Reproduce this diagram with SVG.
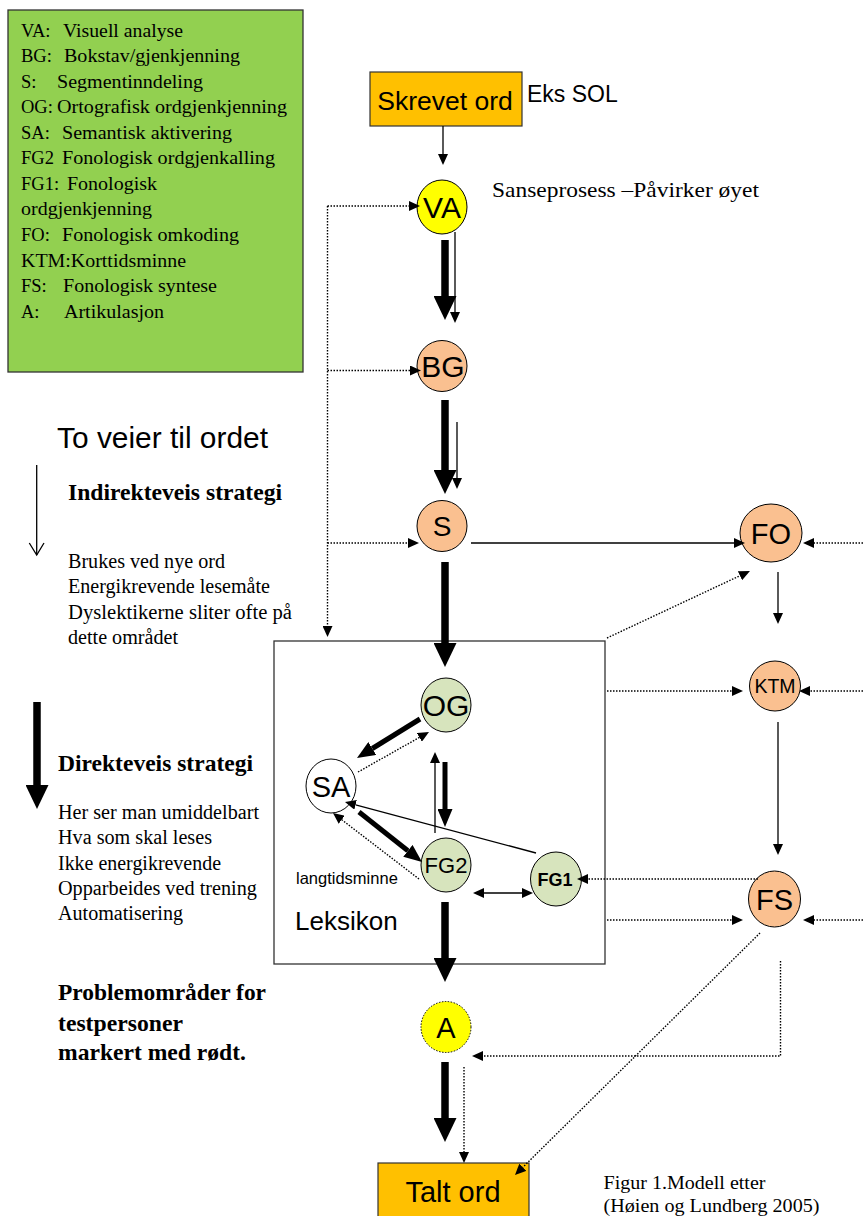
<svg xmlns="http://www.w3.org/2000/svg" width="863" height="1216" viewBox="0 0 863 1216">
<style>
.lg{font-family:"Liberation Serif","Times New Roman",serif;font-size:18.5px;fill:#000}
.tr{font-family:"Liberation Serif","Times New Roman",serif;fill:#000}
.ar{font-family:"Liberation Sans",Arial,sans-serif;fill:#000}
.nd{stroke:#000;stroke-width:1}
.pe{fill:#FAC090}
.gr{fill:#D7E4BD}
.ye{fill:#FFFF00}
.nt{font-family:"Liberation Sans",Arial,sans-serif;text-anchor:middle;fill:#000}
.thick{stroke:#000;stroke-width:7.5;fill:none}
.med{stroke:#000;stroke-width:5;fill:none}
.thin{stroke:#000;stroke-width:1.3;fill:none}
.dot{stroke:#000;stroke-width:1.4;stroke-dasharray:1.5 1.5;fill:none}
</style>
<defs>
<marker id="mT" markerUnits="userSpaceOnUse" markerWidth="24" markerHeight="23" refX="0" refY="11.5" orient="auto"><path d="M0,0 L24,11.5 L0,23 Z" fill="#000"/></marker>
<marker id="mM" markerUnits="userSpaceOnUse" markerWidth="18" markerHeight="15" refX="0" refY="7.5" orient="auto"><path d="M0,0 L18,7.5 L0,15 Z" fill="#000"/></marker>
<marker id="mS" markerUnits="userSpaceOnUse" markerWidth="11" markerHeight="10" refX="0" refY="5" orient="auto-start-reverse"><path d="M0,0 L11,5 L0,10 Z" fill="#000"/></marker>
</defs>

<g id="legend">
<rect x="8" y="10" width="295" height="362" fill="#92D050" stroke="#333" stroke-width="1.3"/>
<text class="lg" x="21" y="36.5">VA:</text><text class="lg" x="63" y="36.5" textLength="120" lengthAdjust="spacingAndGlyphs">Visuell analyse</text>
<text class="lg" x="21" y="62">BG:</text><text class="lg" x="64" y="62" textLength="176" lengthAdjust="spacingAndGlyphs">Bokstav/gjenkjenning</text>
<text class="lg" x="21" y="87.5">S:</text><text class="lg" x="57" y="87.5" textLength="146" lengthAdjust="spacingAndGlyphs">Segmentinndeling</text>
<text class="lg" x="21" y="113">OG:</text><text class="lg" x="57" y="113" textLength="230" lengthAdjust="spacingAndGlyphs">Ortografisk ordgjenkjenning</text>
<text class="lg" x="21" y="138.5">SA:</text><text class="lg" x="62" y="138.5" textLength="170" lengthAdjust="spacingAndGlyphs">Semantisk aktivering</text>
<text class="lg" x="21" y="164">FG2</text><text class="lg" x="62" y="164" textLength="213" lengthAdjust="spacingAndGlyphs">Fonologisk ordgjenkalling</text>
<text class="lg" x="21" y="190">FG1:</text><text class="lg" x="67" y="190" textLength="90" lengthAdjust="spacingAndGlyphs">Fonologisk</text>
<text class="lg" x="21" y="215" textLength="131" lengthAdjust="spacingAndGlyphs">ordgjenkjenning</text>
<text class="lg" x="21" y="241">FO:</text><text class="lg" x="62" y="241" textLength="177" lengthAdjust="spacingAndGlyphs">Fonologisk omkoding</text>
<text class="lg" x="21" y="266.5" textLength="165" lengthAdjust="spacingAndGlyphs">KTM:Korttidsminne</text>
<text class="lg" x="21" y="292">FS:</text><text class="lg" x="63" y="292" textLength="154" lengthAdjust="spacingAndGlyphs">Fonologisk syntese</text>
<text class="lg" x="21" y="318">A:</text><text class="lg" x="64" y="318" textLength="100" lengthAdjust="spacingAndGlyphs">Artikulasjon</text>
</g>

<g id="side-text">
<text class="ar" x="57" y="447.5" font-size="29" textLength="211" lengthAdjust="spacingAndGlyphs">To veier til ordet</text>
<line x1="36.7" y1="465" x2="36.7" y2="555" class="thin" stroke-width="1.2"/>
<polyline points="29.3,543 36.7,555 44,543" class="thin" stroke-width="1.2"/>
<text class="tr" x="68" y="500" font-size="22.5" font-weight="bold" textLength="214" lengthAdjust="spacingAndGlyphs">Indirekteveis strategi</text>
<text class="tr" x="68" y="567.5" font-size="20" textLength="157" lengthAdjust="spacingAndGlyphs">Brukes ved nye ord</text>
<text class="tr" x="68" y="593" font-size="20" textLength="202" lengthAdjust="spacingAndGlyphs">Energikrevende lesemåte</text>
<text class="tr" x="68" y="618.5" font-size="20" textLength="224" lengthAdjust="spacingAndGlyphs">Dyslektikerne sliter ofte  på</text>
<text class="tr" x="68" y="644" font-size="20" textLength="110" lengthAdjust="spacingAndGlyphs">dette området</text>
<line x1="37" y1="702" x2="37" y2="785" class="thick" marker-end="url(#mT)"/>
<text class="tr" x="58" y="771" font-size="22.5" font-weight="bold" textLength="195" lengthAdjust="spacingAndGlyphs">Direkteveis strategi</text>
<text class="tr" x="58" y="818.5" font-size="20" textLength="201" lengthAdjust="spacingAndGlyphs">Her ser man umiddelbart</text>
<text class="tr" x="58" y="844" font-size="20" textLength="154" lengthAdjust="spacingAndGlyphs">Hva som skal leses</text>
<text class="tr" x="58" y="869.5" font-size="20" textLength="163" lengthAdjust="spacingAndGlyphs">Ikke energikrevende</text>
<text class="tr" x="58" y="895" font-size="20" textLength="199" lengthAdjust="spacingAndGlyphs">Opparbeides ved trening</text>
<text class="tr" x="58" y="920" font-size="20" textLength="125" lengthAdjust="spacingAndGlyphs">Automatisering</text>
<text class="tr" x="58" y="1000" font-size="22.5" font-weight="bold" textLength="208" lengthAdjust="spacingAndGlyphs">Problemområder for</text>
<text class="tr" x="58" y="1030.5" font-size="22.5" font-weight="bold" textLength="125" lengthAdjust="spacingAndGlyphs">testpersoner</text>
<text class="tr" x="58" y="1060" font-size="22.5" font-weight="bold" textLength="188" lengthAdjust="spacingAndGlyphs">markert med rødt.</text>
<text class="ar" x="527" y="102" font-size="23">Eks SOL</text>
<text class="tr" x="492" y="197" font-size="22" textLength="267" lengthAdjust="spacingAndGlyphs">Sanseprosess –Påvirker øyet</text>
<text class="tr" x="603.5" y="1189" font-size="19.5" textLength="162" lengthAdjust="spacingAndGlyphs">Figur 1.Modell etter</text>
<text class="tr" x="603.5" y="1212" font-size="19.5" textLength="216" lengthAdjust="spacingAndGlyphs">(Høien og Lundberg 2005)</text>
</g>

<g id="leksikon">
<rect x="274" y="641" width="331" height="323" fill="none" stroke="#333" stroke-width="1.3"/>
<text class="ar" x="296" y="884" font-size="16.5">langtidsminne</text>
<text class="ar" x="295" y="930" font-size="26">Leksikon</text>
</g>

<g id="skrevet-ord">
<rect x="370" y="72" width="152" height="54" fill="#FFC000" stroke="#333" stroke-width="1.2"/>
<text class="nt" x="445" y="110" font-size="26.5">Skrevet ord</text>
</g>
<g id="talt-ord">
<rect x="378" y="1163" width="151" height="70" fill="#FFC000" stroke="#333" stroke-width="1.2"/>
<text class="nt" x="453" y="1202" font-size="29">Talt ord</text>
</g>
<g id="VA"><ellipse cx="442" cy="207" rx="25" ry="27" class="nd ye"/><text class="nt" x="442" y="218" font-size="30">VA</text></g>
<g id="BG"><ellipse cx="442" cy="366" rx="25" ry="25.5" class="nd pe"/><text class="nt" x="443" y="377" font-size="30">BG</text></g>
<g id="S"><ellipse cx="442" cy="526" rx="25" ry="25.5" class="nd pe"/><text class="nt" x="442" y="536" font-size="28">S</text></g>
<g id="FO"><ellipse cx="771" cy="533" rx="31" ry="29" class="nd pe"/><text class="nt" x="771" y="544" font-size="29">FO</text></g>
<g id="KTM"><ellipse cx="775" cy="686" rx="25.5" ry="25" class="nd pe"/><text class="nt" x="775" y="693" font-size="19.5">KTM</text></g>
<g id="FS"><ellipse cx="774.5" cy="899" rx="26" ry="28" class="nd pe"/><text class="nt" x="774.5" y="910" font-size="29">FS</text></g>
<g id="OG"><ellipse cx="446" cy="705" rx="25" ry="27" class="nd gr"/><text class="nt" x="446" y="716" font-size="30">OG</text></g>
<g id="SA"><ellipse cx="331" cy="786" rx="25" ry="27" class="nd" fill="#fff"/><text class="nt" x="331" y="796.5" font-size="29">SA</text></g>
<g id="FG2"><ellipse cx="446" cy="865" rx="25" ry="27" class="nd gr"/><text class="nt" x="446" y="873" font-size="22">FG2</text></g>
<g id="FG1"><ellipse cx="556" cy="879" rx="25.5" ry="27" class="nd gr"/><text class="nt" x="555" y="886" font-size="18" font-weight="bold">FG1</text></g>
<g id="A"><ellipse cx="446" cy="1027" rx="25" ry="25.5" fill="#FFFF00" stroke="#000" stroke-width="1" stroke-dasharray="1.5 1.5"/><text class="nt" x="446" y="1037.5" font-size="29">A</text></g>

<g id="connectors">
<line x1="443" y1="126" x2="443" y2="154" class="thin" marker-end="url(#mS)"/>
<line x1="445" y1="240" x2="445" y2="296" class="thick" marker-end="url(#mT)"/>
<line x1="455" y1="232" x2="455" y2="312" class="thin" marker-end="url(#mS)"/>
<line x1="445" y1="400" x2="445" y2="470" class="thick" marker-end="url(#mT)"/>
<line x1="457" y1="422" x2="457" y2="478" class="thin" marker-end="url(#mS)"/>
<line x1="445" y1="562" x2="445" y2="643" class="thick" marker-end="url(#mT)"/>
<line x1="471" y1="543" x2="734" y2="543" class="thin" marker-end="url(#mS)"/>
<line x1="327.5" y1="206" x2="409" y2="206" class="dot" marker-end="url(#mS)"/>
<line x1="327.5" y1="206" x2="327.5" y2="626" class="dot" marker-end="url(#mS)"/>
<line x1="327.5" y1="370.5" x2="410" y2="370.5" class="dot" marker-end="url(#mS)"/>
<line x1="327.5" y1="543" x2="408" y2="543" class="dot" marker-end="url(#mS)"/>
<line x1="607" y1="638" x2="740" y2="575.7" class="dot" marker-end="url(#mS)"/>
<line x1="863" y1="543" x2="814" y2="543" class="dot" marker-end="url(#mS)"/>
<line x1="778" y1="572" x2="778" y2="613" class="thin" marker-end="url(#mS)"/>
<line x1="607" y1="691" x2="732" y2="691" class="dot" marker-end="url(#mS)"/>
<line x1="863" y1="691" x2="810" y2="691" class="dot" marker-end="url(#mS)"/>
<line x1="778" y1="722" x2="778" y2="844" class="thin" marker-end="url(#mS)"/>
<line x1="758" y1="879" x2="588" y2="879" class="dot" marker-end="url(#mS)"/>
<line x1="607" y1="920" x2="732" y2="920" class="dot" marker-end="url(#mS)"/>
<line x1="863" y1="920" x2="814" y2="920" class="dot" marker-end="url(#mS)"/>
<line x1="760" y1="933" x2="522.8" y2="1167.3" class="dot" marker-end="url(#mS)"/>
<path d="M780.5,961 V1056 H483" class="dot" marker-end="url(#mS)"/>
<line x1="445" y1="902" x2="445" y2="958" class="thick" marker-end="url(#mT)"/>
<line x1="445" y1="1062" x2="445" y2="1118" class="thick" marker-end="url(#mT)"/>
<line x1="464" y1="1067" x2="464" y2="1152" class="dot" marker-end="url(#mS)"/>
<line x1="420" y1="719" x2="372.3" y2="748.5" class="med" marker-end="url(#mM)"/>
<line x1="358" y1="772" x2="419.4" y2="737.4" class="dot" marker-end="url(#mS)"/>
<line x1="435" y1="833" x2="435" y2="763" class="thin" marker-end="url(#mS)"/>
<line x1="445" y1="762" x2="445" y2="809" class="med" marker-end="url(#mM)"/>
<line x1="359" y1="812" x2="407.9" y2="850.8" class="med" marker-end="url(#mM)"/>
<line x1="419" y1="879" x2="341.7" y2="819.7" class="dot" marker-end="url(#mS)"/>
<line x1="536" y1="853" x2="355.6" y2="804.8" class="thin" marker-end="url(#mS)"/>
<line x1="484" y1="893" x2="522" y2="893" class="thin" marker-start="url(#mS)" marker-end="url(#mS)"/>
</g>
</svg>
